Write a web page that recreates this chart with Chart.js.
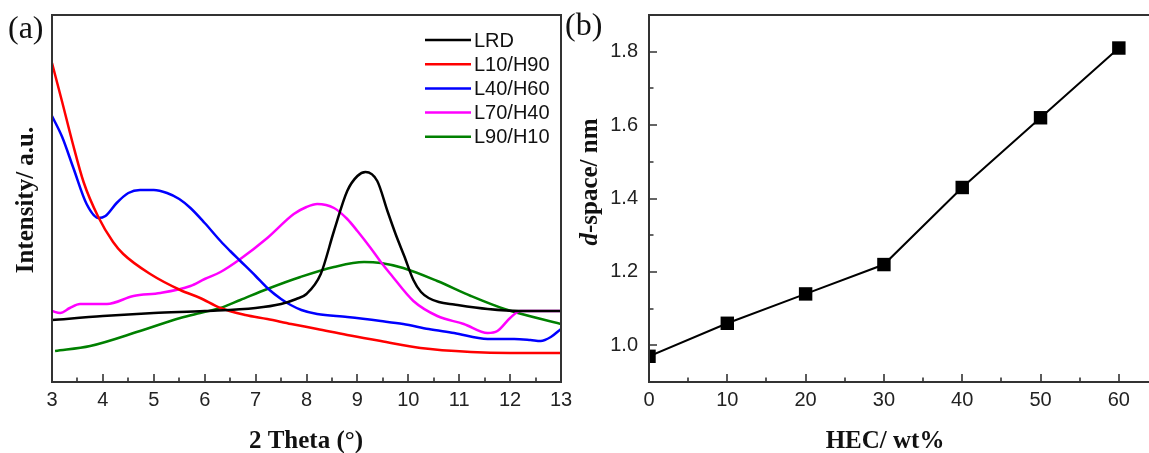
<!DOCTYPE html>
<html><head><meta charset="utf-8">
<script src="https://cdn.jsdelivr.net/npm/chart.js@4.4.1/dist/chart.umd.min.js"></script>
<style>
html,body{margin:0;padding:0;background:#fff;overflow:hidden;width:1149px;height:453px;position:relative;}
#ca{position:absolute;left:0;top:0;}
#cb{position:absolute;left:560px;top:0;}
</style></head><body>
<canvas id="ca" width="575" height="453"></canvas>
<canvas id="cb" width="600" height="453"></canvas>
<script>
// ---------- Panel (a): XRD patterns ----------
const seriesNames = ['LRD', 'L10/H90', 'L40/H60', 'L70/H40', 'L90/H10'];
const seriesColors = ['#000000', '#ff0000', '#0000ff', '#ff00ff', '#008000'];

const thetaLRD = [3.0, 4.0, 5.0, 6.0, 7.0, 7.5, 7.8, 8.0, 8.28, 8.54, 8.8, 9.0, 9.16, 9.39, 9.59, 9.75, 9.92, 10.1, 10.25, 10.4, 10.6, 10.9, 11.56, 12.2, 13.0];
const intLRD   = [62, 66, 69, 71, 74, 78, 83, 88, 108, 151, 191, 206, 210, 201, 171, 148, 126, 102, 90, 84, 80, 77.5, 73, 71, 71];

const thetaL10 = [3.0, 3.2, 3.4, 3.62, 3.91, 4.2, 4.4, 4.93, 5.52, 5.91, 6.31, 6.8, 7.23, 7.7, 8.21, 8.8, 9.46, 10.24, 11.23, 12.0, 13.0];
const intL10   = [319, 280, 240, 200, 165, 140, 128, 108, 92, 84, 74, 67, 63, 58, 53, 47, 41, 34, 30, 29, 29];

const thetaL40 = [3.0, 3.2, 3.42, 3.68, 3.91, 4.05, 4.27, 4.5, 4.73, 5.0, 5.26, 5.5, 5.72, 6.0, 6.31, 6.5, 6.7, 7.0, 7.23, 7.5, 7.69, 7.9, 8.21, 8.8, 9.46, 9.9, 10.4, 10.9, 11.56, 12.08, 12.4, 12.6, 12.8, 13.0];
const intL40   = [266, 245, 214, 178, 164, 166, 179, 189, 192, 192, 189, 183, 174, 159, 141, 131, 121, 106, 94, 83, 77, 72, 68, 65, 61, 58, 53, 49, 43, 43, 42, 41, 45, 53];

const thetaL70 = [3.0, 3.16, 3.35, 3.55, 4.08, 4.6, 5.13, 5.72, 6.0, 6.31, 6.7, 7.23, 7.75, 8.0, 8.21, 8.54, 8.8, 9.0, 9.26, 9.46, 9.65, 10.1, 10.57, 11.09, 11.56, 11.75, 12.0, 12.2, 13.0];
const intL70   = [71, 69, 74, 78, 78, 86, 89, 96, 103, 110, 123, 144, 168, 175, 178, 174, 163, 151, 134, 120, 108, 81, 66, 58, 49, 51, 64, 71, 71];

const thetaL90 = [3.06, 3.75, 4.73, 5.52, 5.91, 6.31, 6.7, 7.23, 7.88, 8.54, 9.13, 9.46, 9.9, 10.57, 11.23, 11.89, 13.0];
const intL90   = [31, 36, 51, 64, 69, 74, 82, 93, 105, 115, 120, 119, 114, 101, 86, 73, 58];

const thetaTicks = [3, 4, 5, 6, 7, 8, 9, 10, 11, 12, 13];

// ---------- Panel (b): d-spacing ----------
const hecContent = [0, 10, 20, 30, 40, 50, 60];
const dSpace     = [0.97, 1.06, 1.14, 1.22, 1.43, 1.62, 1.81];
const hecTicks   = [0, 10, 20, 30, 40, 50, 60];
const dTicks     = [1.0, 1.2, 1.4, 1.6, 1.8];

const TICK_FONT = {family: 'Liberation Sans, Arial, sans-serif', size: 20};
const TICK_COLOR = '#222';
const FRAME = '#333';

function pts(xs, ys) { return xs.map((x, i) => ({x: x, y: ys[i]})); }
function noPad(s) { s.paddingTop = 0; s.paddingBottom = 0; s.paddingLeft = 0; s.paddingRight = 0; }

function framePlugin(cfg) {
  return {
    id: 'frame_' + cfg.name,
    afterDraw(chart) {
      const ctx = chart.ctx, a = chart.chartArea;
      const xs = chart.scales.x, ys = chart.scales.y;
      ctx.save();
      ctx.strokeStyle = FRAME;
      ctx.lineWidth = 2;
      ctx.strokeRect(a.left, a.top, a.right - a.left, a.bottom - a.top);
      ctx.lineWidth = 1.6;
      ctx.beginPath();
      cfg.xMajor.forEach(v => { const p = Math.round(xs.getPixelForValue(v)); ctx.moveTo(p, a.bottom); ctx.lineTo(p, a.bottom - 8); });
      cfg.xMinor.forEach(v => { const p = Math.round(xs.getPixelForValue(v)); ctx.moveTo(p, a.bottom); ctx.lineTo(p, a.bottom - 4.5); });
      (cfg.yMajor || []).forEach(v => { const p = Math.round(ys.getPixelForValue(v)); ctx.moveTo(a.left, p); ctx.lineTo(a.left + 8, p); });
      (cfg.yMinor || []).forEach(v => { const p = Math.round(ys.getPixelForValue(v)); ctx.moveTo(a.left, p); ctx.lineTo(a.left + 4.5, p); });
      ctx.stroke();

      ctx.fillStyle = '#111';
      // panel label
      ctx.font = '32px "Liberation Serif", "Times New Roman", serif';
      ctx.textBaseline = 'middle';
      ctx.textAlign = 'left';
      ctx.fillText(cfg.panel, cfg.panelX, cfg.panelY);
      // x title
      ctx.font = 'bold 25px "Liberation Serif", "Times New Roman", serif';
      ctx.textAlign = 'center';
      ctx.textBaseline = 'alphabetic';
      ctx.fillText(cfg.xTitle, cfg.xTitleX, 448);
      // y title (rotated)
      ctx.save();
      ctx.translate(cfg.yTitleX, cfg.yTitleY);
      ctx.rotate(-Math.PI / 2);
      ctx.textBaseline = 'alphabetic';
      if (cfg.yTitleItalic) {
        const f1 = 'italic bold 25px "Liberation Serif", "Times New Roman", serif';
        const f2 = 'bold 25px "Liberation Serif", "Times New Roman", serif';
        ctx.font = f1; const w1 = ctx.measureText(cfg.yTitleItalic).width;
        ctx.font = f2; const w2 = ctx.measureText(cfg.yTitle).width;
        const x0 = -(w1 + w2) / 2;
        ctx.textAlign = 'left';
        ctx.font = f1; ctx.fillText(cfg.yTitleItalic, x0, 0);
        ctx.font = f2; ctx.fillText(cfg.yTitle, x0 + w1, 0);
      } else {
        ctx.font = 'bold 25px "Liberation Serif", "Times New Roman", serif';
        ctx.textAlign = 'center';
        ctx.fillText(cfg.yTitle, 0, 0);
      }
      ctx.restore();

      // legend
      if (cfg.legend) {
        ctx.font = '20px "Liberation Sans", Arial, sans-serif';
        ctx.textAlign = 'left';
        ctx.textBaseline = 'middle';
        chart.data.datasets.forEach((ds, i) => {
          const y = 40 + i * 24.2;
          ctx.strokeStyle = ds.borderColor;
          ctx.lineWidth = 2.5;
          ctx.beginPath(); ctx.moveTo(425, y); ctx.lineTo(471, y); ctx.stroke();
          ctx.fillStyle = '#111';
          ctx.fillText(ds.label, 474, y + 1);
        });
      }
      ctx.restore();
    }
  };
}

const xsA = [thetaLRD, thetaL10, thetaL40, thetaL70, thetaL90];
const ysA = [intLRD, intL10, intL40, intL70, intL90];
const minorTheta = thetaTicks.slice(0, -1).map(v => v + 0.5);

new Chart(document.getElementById('ca'), {
  type: 'line',
  data: {
    datasets: seriesNames.map((n, i) => ({
      label: n,
      data: pts(xsA[i], ysA[i]),
      borderColor: seriesColors[i],
      backgroundColor: seriesColors[i],
      borderWidth: 2.5,
      pointRadius: 0,
      cubicInterpolationMode: 'monotone',
      fill: false
    }))
  },
  options: {
    responsive: false,
    animation: false,
    layout: {autoPadding: false, padding: {top: 15, right: 14, left: 0, bottom: 0}},
    plugins: {legend: {display: false}, tooltip: {enabled: false}},
    scales: {
      x: {
        type: 'linear', min: 3, max: 13,
        afterBuildTicks: s => { s.ticks = thetaTicks.map(v => ({value: v})); },
        afterFit: s => { s.height = 71; noPad(s); },
        grid: {display: false, drawTicks: false},
        border: {display: false},
        ticks: {font: TICK_FONT, color: TICK_COLOR, padding: 6, maxRotation: 0, autoSkip: false}
      },
      y: {
        type: 'linear', min: 0, max: 367,
        afterFit: s => { s.width = 52; noPad(s); },
        grid: {display: false, drawTicks: false},
        border: {display: false},
        ticks: {display: false}
      }
    }
  },
  plugins: [framePlugin({
    name: 'a', xMajor: thetaTicks, xMinor: minorTheta,
    panel: '(a)', panelX: 8, panelY: 30,
    xTitle: '2 Theta (°)', xTitleX: 306,
    yTitle: 'Intensity/ a.u.', yTitleX: 33, yTitleY: 200,
    legend: true
  })]
});

const minorHec = [5, 15, 25, 35, 45, 55];
const minorD = [0.9, 1.1, 1.3, 1.5, 1.7, 1.9];

new Chart(document.getElementById('cb'), {
  type: 'line',
  data: {
    datasets: [{
      label: 'd-space',
      data: pts(hecContent, dSpace),
      borderColor: '#000',
      backgroundColor: '#000',
      borderWidth: 2,
      pointStyle: 'rect',
      pointRadius: 9.5,
      pointBorderWidth: 0,
      tension: 0,
      clip: 0
    }]
  },
  options: {
    responsive: false,
    animation: false,
    layout: {autoPadding: false, padding: {top: 15, right: 2, left: 0, bottom: 0}},
    plugins: {legend: {display: false}, tooltip: {enabled: false}},
    scales: {
      x: {
        type: 'linear', min: 0, max: 65,
        afterBuildTicks: s => { s.ticks = hecTicks.map(v => ({value: v})); },
        afterFit: s => { s.height = 71; noPad(s); },
        grid: {display: false, drawTicks: false},
        border: {display: false},
        ticks: {font: TICK_FONT, color: TICK_COLOR, padding: 6, maxRotation: 0, autoSkip: false}
      },
      y: {
        type: 'linear', min: 0.9, max: 1.9,
        afterBuildTicks: s => { s.ticks = dTicks.map(v => ({value: v})); },
        afterFit: s => { s.width = 89; noPad(s); },
        grid: {display: false, drawTicks: false},
        border: {display: false},
        ticks: {font: TICK_FONT, color: TICK_COLOR, padding: 11, callback: v => Number(v).toFixed(1)}
      }
    }
  },
  plugins: [framePlugin({
    name: 'b', xMajor: hecTicks, xMinor: minorHec, yMajor: dTicks, yMinor: minorD,
    panel: '(b)', panelX: 5, panelY: 27,
    xTitle: 'HEC/ wt%', xTitleX: 325,
    yTitleItalic: 'd', yTitle: '-space/ nm', yTitleX: 37, yTitleY: 182,
    legend: false
  })]
});
</script>
</body></html>
